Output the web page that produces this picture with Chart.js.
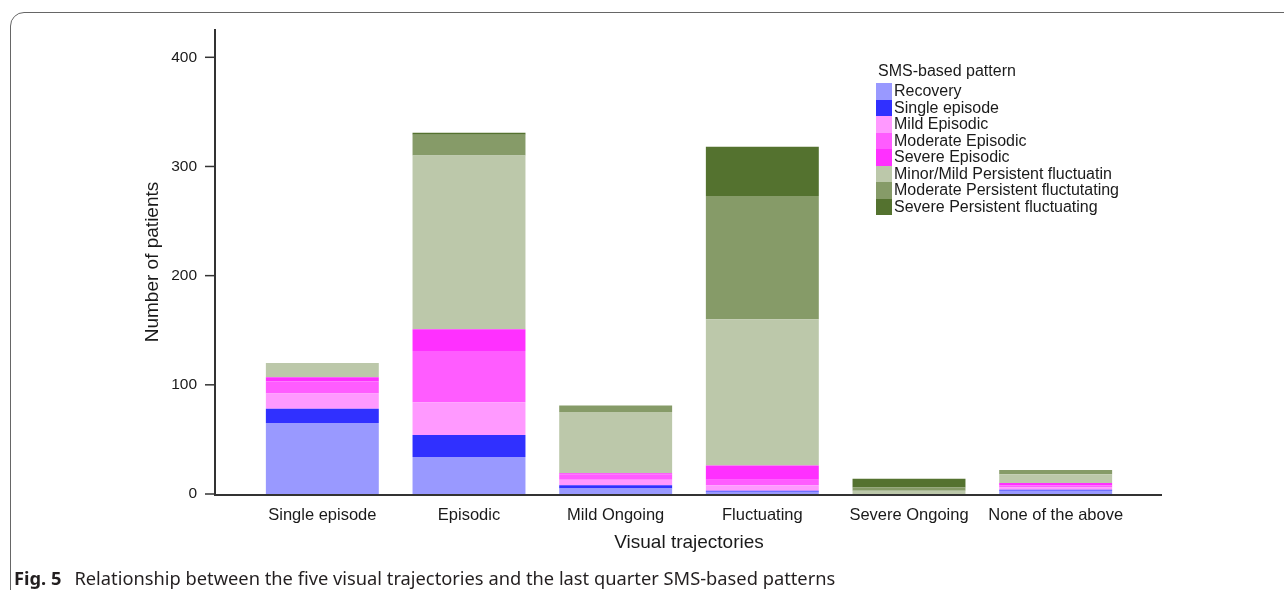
<!DOCTYPE html>
<html lang="en">
<head>
<meta charset="UTF-8">
<title>Fig. 5</title>
<script src="https://cdn.jsdelivr.net/npm/chart.js"></script>
<style>
  body { margin:0; background:#fff; width:1284px; height:590px; overflow:hidden; position:relative; }
  #frame { position:absolute; left:10px; top:12px; width:1300px; height:620px; border:1px solid #666; border-radius:14px; }
  #wrap { position:absolute; left:0; top:0; width:1284px; height:590px; }
  #legend { position:absolute; left:876px; top:60px; font-family:"Liberation Sans", Arial, sans-serif; font-size:16px; color:#1a1a1a; }
  #legend .ttl { margin-left:2px; height:23px; line-height:22px; }
  #legend .row { display:flex; align-items:center; height:16.5px; }
  #legend .box { width:16px; height:16.5px; margin-right:2px; }
  #legend .lab { line-height:16px; }
  #caption { position:absolute; left:14px; top:566px; line-height:24px; font-family:"Noto Sans", sans-serif; font-size:18.3px; color:#231f20; white-space:nowrap; }
  #caption b { margin-right:13px; }
</style>
</head>
<body>
<div id="frame"></div>
<div id="wrap"><canvas id="myChart" width="1284" height="590"></canvas></div>
<div id="legend"></div>
<div id="caption"><b>Fig. 5</b>Relationship between the five visual trajectories and the last quarter SMS-based patterns</div>
<script>
  // categories (visual trajectories)
  const categories = ["Single episode", "Episodic", "Mild Ongoing", "Fluctuating", "Severe Ongoing", "None of the above"];
  const yTicks = [0, 100, 200, 300, 400];

  // SMS-based pattern series (number of patients)
  const recovery      = [65, 34, 5, 2, 0, 3];
  const singleEpisode = [13, 20, 3, 1, 0, 1];
  const mildEpisodic  = [14, 30, 5, 5, 0, 2];
  const modEpisodic   = [11, 47, 5, 5, 0, 2];
  const sevEpisodic   = [4, 20, 1, 13, 0, 2];
  const minorPersist  = [13, 159, 56, 134, 3, 8];
  const modPersist    = [0, 19, 6, 113, 3, 4];
  const sevPersist    = [0, 2, 0, 45, 8, 0];

  const seriesNames = ["Recovery", "Single episode", "Mild Episodic", "Moderate Episodic", "Severe Episodic",
                       "Minor/Mild Persistent fluctuatin", "Moderate Persistent fluctutating", "Severe Persistent fluctuating"];
  const seriesData = [recovery, singleEpisode, mildEpisodic, modEpisodic, sevEpisodic, minorPersist, modPersist, sevPersist];
  const seriesColors = ["#9999ff", "#3030ff", "#ff99ff", "#ff5cff", "#ff30ff", "#bcc8aa", "#869b68", "#54722f"];

  const FONT = "'Liberation Sans', Arial, sans-serif";

  // axis lines drawn a bit past the bars like in the original figure
  const axisLines = {
    id: "axisLines",
    afterDraw(chart) {
      const { ctx, chartArea: a, scales: { y } } = chart;
      const x0 = a.left - 34, x1 = a.right + 33;
      ctx.save();
      ctx.strokeStyle = "#333";
      ctx.lineWidth = 2;
      ctx.beginPath();
      ctx.moveTo(x0, a.top - 1);
      ctx.lineTo(x0, a.bottom + 1);
      ctx.lineTo(x1, a.bottom + 1);
      ctx.stroke();
      ctx.lineWidth = 1.5;
      yTicks.forEach(v => {
        const py = y.getPixelForValue(v);
        ctx.beginPath();
        ctx.moveTo(x0 - 10, py);
        ctx.lineTo(x0, py);
        ctx.stroke();
      });
      ctx.restore();
    }
  };

  const ctx = document.querySelector("#myChart");
  const smsChart = new Chart(ctx, {
    type: "bar",
    data: {
      labels: categories,
      datasets: seriesNames.map((name, i) => ({
        label: name,
        data: seriesData[i],
        backgroundColor: seriesColors[i],
        borderWidth: 0,
        barPercentage: 0.77,
        categoryPercentage: 1
      }))
    },
    options: {
      responsive: false,
      animation: false,
      layout: { padding: { top: 30, right: 155, bottom: 32, left: 0 } },
      plugins: { legend: { display: false }, tooltip: { enabled: false } },
      scales: {
        x: {
          stacked: true,
          grid: { display: false, drawTicks: false },
          border: { display: false },
          ticks: { color: "#1a1a1a", font: { family: FONT, size: 16.5 }, padding: 12, maxRotation: 0 },
          title: { display: true, text: "Visual trajectories", color: "#1a1a1a", font: { family: FONT, size: 19 }, padding: { top: 4, bottom: 4 } },
          afterFit: s => { s.height = 64; s.paddingLeft = 0; s.paddingRight = 0; }
        },
        y: {
          stacked: true,
          min: 0,
          max: 425,
          grid: { display: false, drawTicks: false },
          border: { display: false },
          afterBuildTicks: s => { s.ticks = yTicks.map(v => ({ value: v })); },
          ticks: { color: "#1a1a1a", font: { family: FONT, size: 15.5 }, padding: 52 },
          title: { display: true, text: "Number of patients", color: "#1a1a1a", font: { family: FONT, size: 19 }, padding: { top: 141, bottom: 0 } },
          afterFit: s => { s.width = 249; s.paddingTop = 0; s.paddingBottom = 0; }
        }
      }
    },
    plugins: [axisLines]
  });

  // legend built from the datasets
  const leg = document.querySelector("#legend");
  let html = '<div class="ttl">SMS-based pattern</div>';
  seriesNames.forEach((n, i) => {
    html += '<div class="row"><div class="box" style="background:' + seriesColors[i] + '"></div><div class="lab">' + n + '</div></div>';
  });
  leg.innerHTML = html;
</script>
</body>
</html>
